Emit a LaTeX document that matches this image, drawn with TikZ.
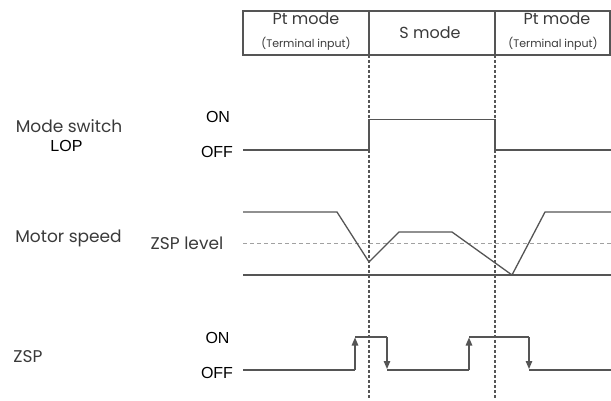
\documentclass[tikz,border=0pt]{standalone}
\usepackage{fontspec}
\setmainfont{Poppins}
\newfontfamily\arialfont{Liberation Sans}
\usetikzlibrary{arrows.meta}
\definecolor{wave}{HTML}{555555}
\definecolor{txt}{HTML}{3A3A3A}
\tikzset{
  sig/.style={draw=wave, line width=1.3pt, line join=miter},
  vdash/.style={draw=wave, line width=1.2pt, dash pattern=on 3pt off 2pt},
  zdash/.style={draw=wave!55, line width=1pt, dash pattern=on 4pt off 3pt},
  lbl/.style={text=txt, inner sep=0pt, anchor=base, font=\fontsize{17}{19}\selectfont},
  hlbl/.style={text=txt, inner sep=0pt, anchor=base, font=\fontsize{16}{18}\selectfont},
  albl/.style={text=black, inner sep=0pt, anchor=base, font=\arialfont\fontsize{16}{18}\selectfont},
  sml/.style={text=txt, inner sep=0pt, anchor=base, font=\fontsize{11}{12}\selectfont},
  hdr/.style={draw=wave, line width=1.1pt},
  tipu/.style={-{Triangle[length=8pt,width=6.5pt]}},
}
\begin{document}
\begin{tikzpicture}[x=1pt,y=-1pt]
\useasboundingbox (0,0) rectangle (611,401);
% header
\draw[hdr] (243,11) rectangle (610,55);
\draw[hdr] (369,11) -- (369,55);
\draw[hdr] (495,11) -- (495,55);
\node[hlbl] (pt1) at (306,25) {Pt mode};
\node[sml] (ti1) at (306,48) {(Terminal input)};
\node[hlbl] (sm) at (430,39) {S mode};
\node[hlbl] (pt2) at (557,25) {Pt mode};
\node[sml] (ti2) at (553,48) {(Terminal input)};
% dashed vertical lines
\coordinate (d1t) at (369,55); \coordinate (d1b) at (369,398);
\coordinate (d2t) at (495,55); \coordinate (d2b) at (495,398);
\draw[vdash] (d1t) -- (d1b);
\draw[vdash] (d2t) -- (d2b);
% Mode switch
\node[lbl] (ms) at (69,133) {Mode switch};
\node[albl] (lop) at (66.5,152) {LOP};
\node[albl] (on1) at (218,123) {ON};
\node[albl] (off1) at (217,158) {OFF};
\draw[sig] (243,150) -- (369,150) -- (369,119.5) -- (495,119.5) -- (495,150) -- (611,150);
% Motor speed
\node[lbl] (msp) at (68.5,243) {Motor speed};
\node[lbl] (zl) at (187,250) {ZSP level};
\draw[zdash] (243,243) -- (611,243);
\draw[sig] (243,275) -- (611,275);
\draw[sig] (243,212) -- (337,212) -- (369,262) -- (399,232) -- (452,232) -- (512,275) -- (545,212) -- (611,212);
% ZSP
\node[lbl] (zsp) at (28,362) {ZSP};
\node[albl] (on2) at (217.5,343) {ON};
\node[albl] (off2) at (217,378) {OFF};
\draw[sig] (243,370) -- (355,370);
\draw[sig,tipu] (355,370) -- (355,337.5);
\draw[sig] (355,337) -- (387,337);
\draw[sig,tipu] (387,337) -- (387,369);
\draw[sig] (387,370) -- (469,370);
\draw[sig,tipu] (469,370) -- (469,337.5);
\draw[sig] (469,337) -- (529,337);
\draw[sig,tipu] (529,337) -- (529,369);
\draw[sig] (529,370) -- (611,370);
\end{tikzpicture}
\end{document}
